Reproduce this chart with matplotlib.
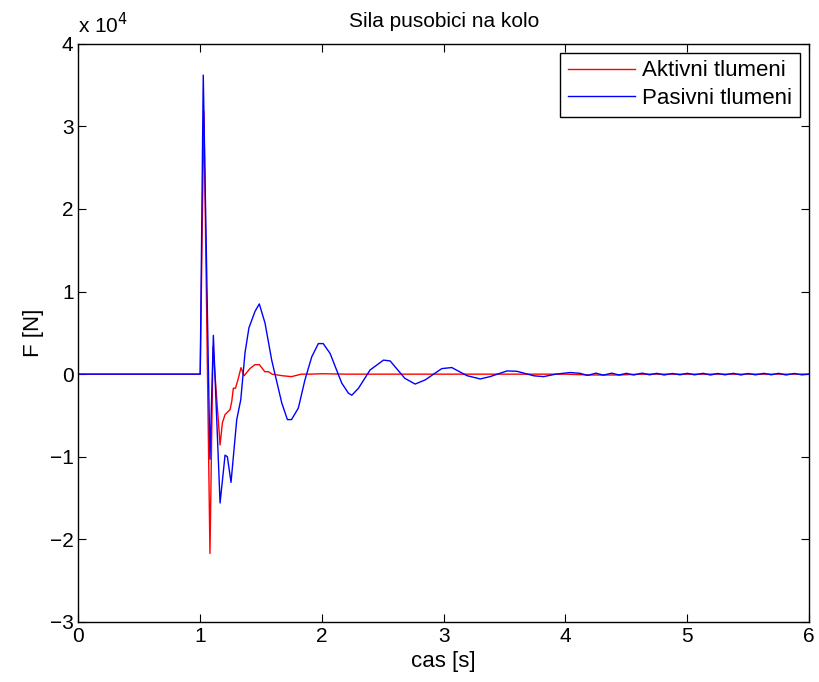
import matplotlib
matplotlib.use("Agg")
import matplotlib.pyplot as plt

# values, force in units of 1e4 N
t_pas = [0.0, 1.0, 1.025, 1.08, 1.108, 1.163, 1.204, 1.223, 1.253, 1.30,
         1.333, 1.368, 1.40, 1.45, 1.485, 1.532, 1.587, 1.67, 1.716, 1.75,
         1.806, 1.86, 1.916, 1.97, 2.01, 2.067, 2.12, 2.163, 2.217, 2.245,
         2.30, 2.395, 2.505, 2.56, 2.68, 2.765, 2.847, 2.984, 3.066, 3.19,
         3.30, 3.38, 3.52, 3.60, 3.74, 3.82, 3.92, 4.04, 4.12, 4.18, 4.25,
         4.31, 4.38, 4.44, 4.50, 4.56, 4.63, 4.69, 4.75, 4.81, 4.88, 4.94,
         5.00, 5.06, 5.13, 5.19, 5.25, 5.31, 5.38, 5.44, 5.50, 5.56, 5.63,
         5.69, 5.75, 5.81, 5.88, 5.94, 6.0]
f_pas = [0.0, 0.0, 3.62, -1.03, 0.47, -1.56, -0.98, -1.0, -1.31, -0.55,
         -0.31, 0.26, 0.56, 0.76, 0.85, 0.62, 0.17, -0.35, -0.55, -0.55,
         -0.41, -0.07, 0.21, 0.37, 0.37, 0.25, 0.05, -0.11, -0.23, -0.255,
         -0.17, 0.05, 0.17, 0.16, -0.05, -0.12, -0.07, 0.067, 0.08, -0.018,
         -0.058, -0.03, 0.039, 0.035, -0.02, -0.03, 0.0, 0.02, 0.01, -0.015,
         0.012, -0.012, 0.012, -0.01, 0.01, -0.01, 0.012, -0.008, 0.01,
         -0.01, 0.008, -0.008, 0.01, -0.008, 0.01, -0.01, 0.008, -0.008,
         0.01, -0.01, 0.008, -0.008, 0.01, -0.008, 0.01, -0.01, 0.008,
         -0.008, 0.0]

t_akt = [0.0, 1.0, 1.03, 1.08, 1.105, 1.163, 1.182, 1.204, 1.245, 1.259,
         1.272, 1.29, 1.313, 1.335, 1.36, 1.41, 1.45, 1.486, 1.52, 1.53,
         1.56, 1.59, 1.68, 1.75, 1.83, 1.90, 2.0, 2.2, 2.5, 3.0, 3.5, 4.0,
         4.2, 4.45, 4.6, 5.0, 5.5, 6.0]
f_akt = [0.0, 0.0, 3.18, -2.17, 0.33, -0.857, -0.59, -0.49, -0.43, -0.33,
         -0.17, -0.17, -0.05, 0.079, -0.02, 0.07, 0.115, 0.115, 0.05, 0.03,
         0.03, 0.0, -0.02, -0.03, 0.0, 0.0, 0.005, 0.0, 0.0, 0.0, 0.0, 0.0,
         -0.01, -0.01, 0.0, 0.0, 0.0, 0.0]

x_ticks = [0, 1, 2, 3, 4, 5, 6]
y_ticks = [-3, -2, -1, 0, 1, 2, 3, 4]

plt.rcParams['font.family'] = ['Liberation Sans', 'DejaVu Sans']

fig = plt.figure(figsize=(8.19, 6.82), dpi=100)
ax = fig.add_axes([0.0958, 0.088, 0.892, 0.8479])

ax.plot(t_akt, f_akt, color='red', lw=1.0, label='Aktivni tlumeni')
ax.plot(t_pas, f_pas, color='blue', lw=1.0, label='Pasivni tlumeni')

ax.set_xlim(0, 6)
ax.set_ylim(-3, 4)
ax.set_xticks(x_ticks)
ax.set_yticks(y_ticks)
ax.set_yticklabels(['\u22123', '\u22122', '\u22121', '0', '1', '2', '3', '4'])
ax.tick_params(direction='in', top=True, right=True, labelsize=15, length=6)
for s in ax.spines.values():
    s.set_linewidth(1.0)

ax.set_title('Sila pusobici na kolo', fontsize=15, pad=12)
ax.set_xlabel('cas [s]', fontsize=16, labelpad=4)
ax.set_ylabel('F [N]', fontsize=16, labelpad=4)
ax.text(0.0, 1.012, 'x 10$^{4}$', transform=ax.transAxes, fontsize=15,
        ha='left', va='bottom')

leg = ax.legend(loc='upper right', fontsize=16, fancybox=False,
                edgecolor='black', framealpha=1, handlelength=3.0,
                handletextpad=0.35, borderaxespad=0.4, borderpad=0.35,
                labelspacing=0.3)
leg.get_frame().set_linewidth(1.0)

fig.savefig('out.png', dpi=100)
